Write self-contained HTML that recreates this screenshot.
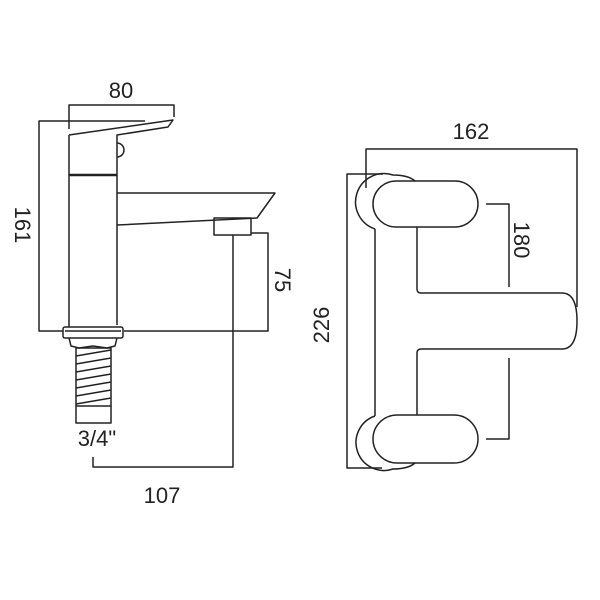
<!DOCTYPE html>
<html><head><style>body{margin:0;background:#fff}svg{display:block}text{font-family:"Liberation Sans",sans-serif;font-size:22px;fill:#222}</style></head><body>
<svg width="600" height="600" viewBox="0 0 600 600" xmlns="http://www.w3.org/2000/svg">
<g fill="none" stroke="#222" stroke-width="1.5" stroke-linejoin="round">
<polyline points="69,129 69,105 174,105 174,117"/>
<polyline points="145,121 39,121 39,331 63,331"/>
<polyline points="124,331 268,331 268,233 251,233"/>
<polyline points="233,235 233,467 93,467 93,457"/>
<path d="M69,135 L173,120 L168,127 L117,135 L117,325 M69,135 L69,327"/>
<line x1="69" y1="175" x2="117" y2="175" stroke-width="2.5"/>
<path d="M117,193 L275,193 L257,218 L117,225"/>
<path d="M117,143 a4,4 0 0 1 0,14"/>
<rect x="214" y="218" width="37" height="17"/>
<rect x="63" y="327" width="60" height="11" rx="2"/>
<line x1="65" y1="331" x2="121" y2="331"/>
<path d="M69,338 L71,346 L79,348 L93,346 L107,348 L115,346 L117,338"/>
<rect x="76" y="348" width="35" height="58"/>
<path d="M76,356 L111,350 M76,364 L111,358 M76,372 L111,366 M76,380 L111,374 M76,388 L111,382 M76,396 L111,390 M76,404 L111,398"/>
<polyline points="76,406 76,423 111,423 111,406"/>
<polyline points="366,188 366,149 577,149 577,307"/>
<polyline points="383,174 347,174 347,468 382,468"/>
<polyline points="486,204 509,204 509,287"/>
<polyline points="509,358 509,439 486,439"/>
<path d="M375,229 A27,27 0 0 1 393,175 Q408,175 415,181"/>
<rect x="373" y="181" width="105" height="46" rx="23"/>
<path d="M375,229 L375,416"/>
<path d="M417,227 L417,289 Q417,293 421,293 L562,293 Q577,293 577,321 Q577,349 562,349 L421,349 Q417,349 417,353 L417,415"/>
<path d="M375,416 A27,27 0 0 0 393,469 Q408,469 415,463"/>
<rect x="373" y="415" width="105" height="48" rx="24"/>
</g>
<text x="121" y="98" text-anchor="middle">80</text>
<text transform="translate(15,225) rotate(90)" text-anchor="middle">161</text>
<text transform="translate(275,280) rotate(90)" text-anchor="middle">75</text>
<text x="97" y="446" text-anchor="middle">3/4"</text>
<text x="162" y="503" text-anchor="middle">107</text>
<text x="471" y="139" text-anchor="middle">162</text>
<text transform="translate(514,240) rotate(90)" text-anchor="middle">180</text>
<text transform="translate(329,325) rotate(-90)" text-anchor="middle">226</text>
</svg>
</body></html>
